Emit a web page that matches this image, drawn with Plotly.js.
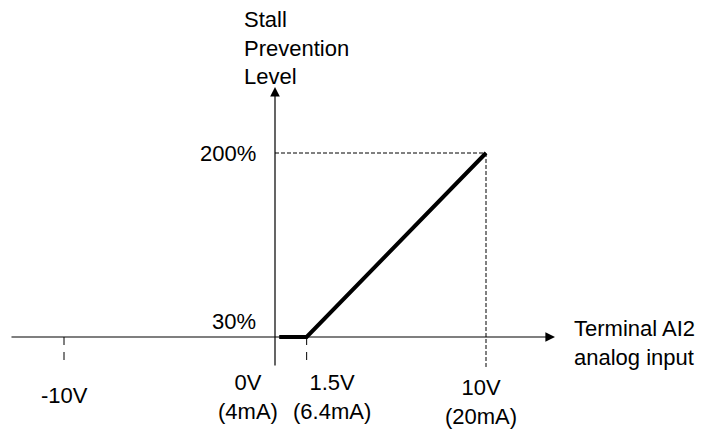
<!DOCTYPE html>
<html>
<head>
<meta charset="utf-8">
<script src="https://cdn.plot.ly/plotly-3.0.1.min.js"></script>
<style>html,body{margin:0;padding:0;background:#fff;}#chart{width:703px;height:430px;}</style>
</head>
<body>
<div id="chart"></div>
<script>
// Characteristic curve: stall prevention level vs terminal AI2 analog input
const inputV = [0.2, 1.5, 10];
const levelPct = [30, 30, 200];

// Axis extents (data units)
const xAxisFrom = -12.56, xAxisTo = 13.27;
const yAxisFrom = 2.3, yAxisTo = 261;
const xBase = 0, yBase = 30;

// Guide values
const guideX = 10, guideY = 200;
const dashTickX = [-10, 1.5];
const dashTickBottom = 5.1;

// Tick labels
const xTickText = ['-10V', '0V<br>(4mA)', '1.5V<br>(6.4mA)', '10V<br>(20mA)'];
const xTickLabelX = [-10, -1.28, 2.72, 9.74];
const xTickLabelY = [-23.6, -25.4, -25.4, -30];
const yTickText = ['30%', '200%'];
const yTickVals = [43.9, 200];
const yLabelRight = -0.81;

const xTitle = 'Terminal AI2<br>analog input';
const yTitle = 'Stall<br>Prevention<br>Level';

const FONT = 'Liberation Sans, Arial, sans-serif';
const FS = 22;

const traces = [];
// dashed guides
traces.push({x: [xBase, guideX], y: [guideY, guideY], mode: 'lines',
  line: {color: '#000', width: 1, dash: '4px,2px'}, hoverinfo: 'skip', showlegend: false});
traces.push({x: [guideX, guideX], y: [guideY, yAxisFrom], mode: 'lines',
  line: {color: '#000', width: 1, dash: '4px,2px'}, hoverinfo: 'skip', showlegend: false});
dashTickX.forEach(v => traces.push({x: [v, v], y: [yBase, dashTickBottom], mode: 'lines',
  line: {color: '#000', width: 1, dash: '8px,7px'}, hoverinfo: 'skip', showlegend: false}));
// main curve
traces.push({x: inputV, y: levelPct, mode: 'lines',
  line: {color: '#000', width: 4}, hoverinfo: 'skip', showlegend: false});

const annotations = [];
// axes with arrows
annotations.push({x: xAxisTo, y: yBase, ax: xAxisFrom, ay: yBase, xref: 'x', yref: 'y', axref: 'x', ayref: 'y',
  showarrow: true, arrowhead: 2, arrowsize: 1.6, arrowwidth: 1.2, arrowcolor: '#000', text: '', standoff: 0});
annotations.push({x: xBase, y: yAxisTo, ax: xBase, ay: yAxisFrom, xref: 'x', yref: 'y', axref: 'x', ayref: 'y',
  showarrow: true, arrowhead: 2, arrowsize: 1.6, arrowwidth: 1.2, arrowcolor: '#000', text: '', standoff: 0});

xTickText.forEach((t, i) => annotations.push({x: xTickLabelX[i], y: xTickLabelY[i], xref: 'x', yref: 'y',
  text: t, showarrow: false, xanchor: 'center', yanchor: 'middle', align: 'center',
  font: {family: FONT, size: FS, color: '#000'}}));
yTickText.forEach((t, i) => annotations.push({x: yLabelRight, y: yTickVals[i], xref: 'x', yref: 'y',
  text: t, showarrow: false, xanchor: 'right', yanchor: 'middle', align: 'right',
  font: {family: FONT, size: FS, color: '#000'}}));
annotations.push({x: 14.06, y: 24.5, xref: 'x', yref: 'y', text: xTitle, showarrow: false,
  xanchor: 'left', yanchor: 'middle', align: 'left', font: {family: FONT, size: FS, color: '#000'}});
annotations.push({x: -1.58, y: 297, xref: 'x', yref: 'y', text: yTitle, showarrow: false,
  xanchor: 'left', yanchor: 'middle', align: 'left', font: {family: FONT, size: FS, color: '#000'}});

const layout = {
  width: 703, height: 430,
  margin: {l: 0, r: 0, t: 0, b: 0},
  paper_bgcolor: '#fff', plot_bgcolor: '#fff',
  xaxis: {range: [-13.033, 20.284], visible: false, fixedrange: true},
  yaxis: {range: [-55.92, 341.35], visible: false, fixedrange: true},
  annotations: annotations,
  showlegend: false
};

Plotly.newPlot('chart', traces, layout, {staticPlot: true});
</script>
</body>
</html>
